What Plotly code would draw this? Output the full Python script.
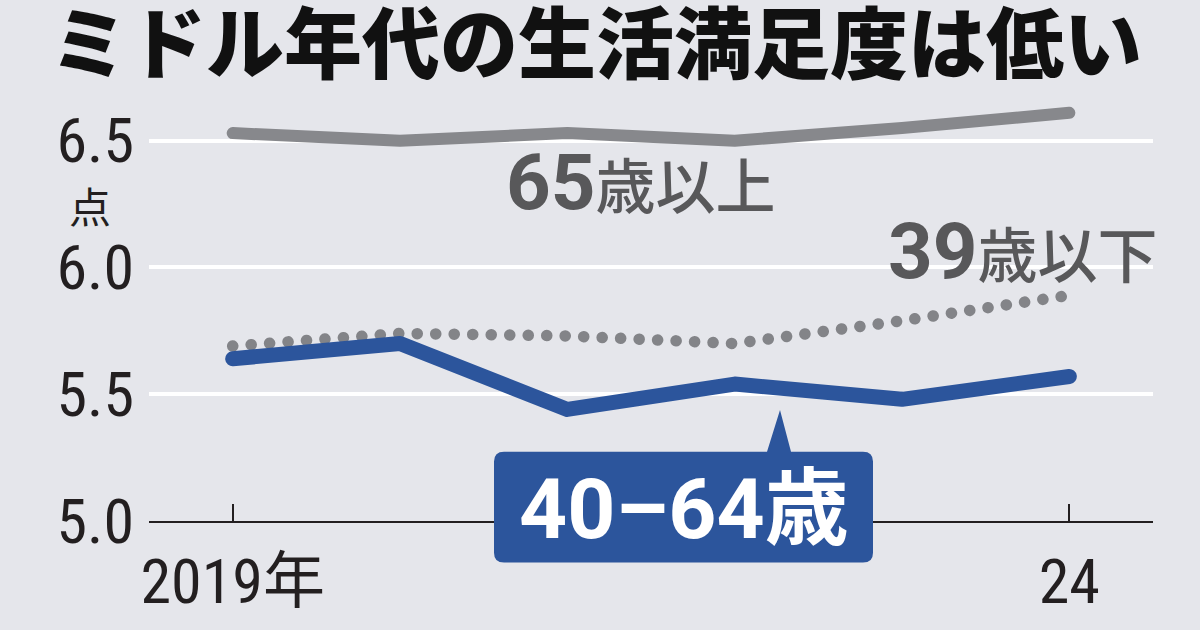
import plotly.graph_objects as go

years = [2019, 2020, 2021, 2022, 2023, 2024]
over65 = [6.53, 6.50, 6.53, 6.50, 6.55, 6.61]
under39 = [5.69, 5.74, 5.73, 5.70, 5.79, 5.89]
mid40_64 = [5.64, 5.70, 5.44, 5.54, 5.48, 5.57]

y_ticks = [5.0, 5.5, 6.0, 6.5]
y_ticktext = ["5.0", "5.5", "6.0", "6.5"]
x_tickvals = [2019, 2024]
x_ticktext = ["2019年", "24"]

BG = "#e5e6eb"
BLUE = "#2c559c"
GRAY = "#87888c"
DOT = "#838488"
TXT = "#58585a"
NUM_FONT = "Liberation Sans Narrow, Roboto Condensed, Roboto, Noto Sans CJK JP"

W, H = 1200, 630
ML, MR, MT, MB = 149, 47, 90, 105
PW, PH = W - ML - MR, H - MT - MB


def px(x):
    return (x - ML) / PW


def py(y):
    return (H - MB - y) / PH


fig = go.Figure()
fig.add_trace(go.Scatter(x=years, y=over65, mode="lines", line=dict(color=GRAY, width=12),
                         cliponaxis=False, hoverinfo="skip"))
fig.add_trace(go.Scatter(x=years, y=under39, mode="lines",
                         line=dict(color=DOT, width=11.5, dash="0.1px,18.4px"),
                         cliponaxis=False, hoverinfo="skip"))
fig.add_trace(go.Scatter(x=years, y=mid40_64, mode="lines", line=dict(color=BLUE, width=15),
                         cliponaxis=False, hoverinfo="skip"))

# callout box with pointer for 40-64
x0, x1, y0, y1, r = 494, 873, 455, 567, 10
bx0, bx1, apx, apy = 767, 791, 780, 413
path = (
    f"M {px(x0 + r)},{py(y0)} L {px(bx0)},{py(y0)} L {px(apx)},{py(apy)} L {px(bx1)},{py(y0)} "
    f"L {px(x1 - r)},{py(y0)} Q {px(x1)},{py(y0)} {px(x1)},{py(y0 + r)} "
    f"L {px(x1)},{py(y1 - r)} Q {px(x1)},{py(y1)} {px(x1 - r)},{py(y1)} "
    f"L {px(x0 + r)},{py(y1)} Q {px(x0)},{py(y1)} {px(x0)},{py(y1 - r)} "
    f"L {px(x0)},{py(y0 + r)} Q {px(x0)},{py(y0)} {px(x0 + r)},{py(y0)} Z"
)
fig.add_shape(type="path", path=path, xref="paper", yref="paper",
              fillcolor=BLUE, line=dict(width=0), layer="above")

annotations = [
    dict(text="<b>40–64歳</b>", x=px((x0 + x1) / 2), y=py(513), xref="paper", yref="paper",
         showarrow=False, xanchor="center", yanchor="middle",
         font=dict(family="Roboto, Noto Sans CJK JP", size=84, color="white")),
    dict(text="<b>65</b><span style='font-size:60px;font-weight:500'>歳以上</span>",
         x=px(504), y=py(183), xref="paper", yref="paper", showarrow=False,
         xanchor="left", yanchor="middle",
         font=dict(family="Roboto, Noto Sans CJK JP", size=78, color=TXT)),
    dict(text="<b>39</b><span style='font-size:60px;font-weight:500'>歳以下</span>",
         x=px(886), y=py(253), xref="paper", yref="paper", showarrow=False,
         xanchor="left", yanchor="middle",
         font=dict(family="Roboto, Noto Sans CJK JP", size=78, color=TXT)),
    dict(text="点", x=px(90), y=py(206), xref="paper", yref="paper", showarrow=False,
         xanchor="center", yanchor="middle",
         font=dict(family="Noto Sans CJK JP", size=42, color="#231f20")),
]

fig.update_layout(
    width=W, height=H,
    margin=dict(l=ML, r=MR, t=MT, b=MB),
    paper_bgcolor=BG, plot_bgcolor=BG,
    showlegend=False,
    title=dict(text="ミドル年代の生活満足度は低い", xref="container", yref="container",
               x=50 / W, xanchor="left", y=1 - 46 / H, yanchor="middle",
               font=dict(family="Noto Sans CJK JP", size=78, color="#111", weight=900)),
    annotations=annotations,
    xaxis=dict(range=[2018.5, 2024.5], tickvals=x_tickvals, ticktext=x_ticktext,
               showgrid=False, zeroline=False, showline=True, linecolor="#231f20", linewidth=1.5,
               ticks="inside", ticklen=17, tickwidth=1.5, tickcolor="#231f20",
               ticklabelstandoff=6,
               tickfont=dict(family=NUM_FONT, size=62, color="#231f20")),
    yaxis=dict(range=[5.0, 6.7], tickvals=y_ticks, ticktext=y_ticktext,
               showgrid=True, gridcolor="white", gridwidth=4, zeroline=False, showline=False,
               ticks="", ticklabelstandoff=14,
               tickfont=dict(family=NUM_FONT, size=62, color="#231f20")),
)

post = """
document.documentElement.style.margin='0';
document.body.style.margin='0';
document.body.style.padding='0';
document.body.style.background='#e5e6eb';
var gd = document.getElementById('{plot_id}');
function fixcaps(){
  gd.querySelectorAll('.scatterlayer path.js-line').forEach(function(p){
    p.style.strokeLinecap='round'; p.style.strokeLinejoin='round';
  });
}
fixcaps();
gd.on('plotly_afterplot', fixcaps);
"""

fig.write_html("out.html", post_script=post, config={"displayModeBar": False})
